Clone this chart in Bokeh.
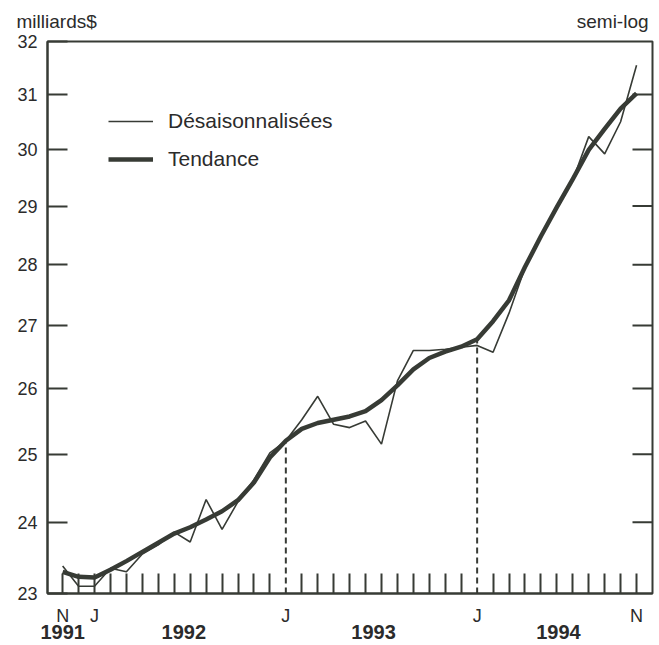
from bokeh.plotting import figure
from bokeh.models import (Range1d, FixedTicker, LinearAxis, Legend, LegendItem,
                          PrintfTickFormatter)
from bokeh.embed import file_html
from bokeh.resources import INLINE

# Monthly index: 0 = Nov 1991 ... 36 = Nov 1994
months = list(range(37))

# Seasonally adjusted series (billions $)
sa = [23.38, 23.10, 23.10, 23.35, 23.30, 23.55, 23.68, 23.86, 23.72, 24.33,
      23.90, 24.30, 24.62, 25.02, 25.20, 25.52, 25.88, 25.45, 25.40, 25.50,
      25.15, 26.12, 26.60, 26.60, 26.62, 26.65, 26.68, 26.57, 27.20, 27.95,
      28.48, 29.00, 29.45, 30.23, 29.92, 30.50, 31.55]

# Trend series
trend = [23.30, 23.23, 23.22, 23.33, 23.45, 23.58, 23.71, 23.84, 23.93, 24.04,
         24.16, 24.32, 24.58, 24.95, 25.20, 25.38, 25.47, 25.52, 25.57, 25.65,
         25.82, 26.05, 26.30, 26.48, 26.58, 26.66, 26.78, 27.07, 27.41, 27.96,
         28.48, 28.98, 29.47, 29.99, 30.37, 30.74, 31.02]

y_ticks = [23, 24, 25, 26, 27, 28, 29, 30, 31, 32]
month_label_pos = [0, 2, 14, 26, 36]
month_labels = ["N", "J", "J", "J", "N"]
dash_months = [14, 26]
month_tick_pos = [m for m in months if m not in dash_months]
year_pos = [0, 7.6, 19.5, 31.1]
year_labels = ["1991", "1992", "1993", "1994"]
header_pos = [-0.375, 34.5]
header_labels = ["milliards$", "semi-log"]

INK = "#373b35"
TEXT = "#2b2b2b"
FONT = "Liberation Sans"
X_LO, X_HI = -0.95, 37.0
FRAME_W, FRAME_H = 605, 552
TICK_PX = 20

p = figure(frame_width=FRAME_W, frame_height=FRAME_H,
           x_range=Range1d(X_LO, X_HI), y_range=Range1d(23, 32),
           y_axis_type="log", output_backend="svg", toolbar_location=None,
           min_border_left=47, min_border_top=41, min_border_right=5,
           min_border_bottom=0, background_fill_color="white",
           border_fill_color="white")

p.grid.visible = False
p.outline_line_color = INK
p.outline_line_width = 2

# bottom axis: month letters, ticks every month pointing inward
xa = p.xaxis[0]
xa.ticker = FixedTicker(ticks=month_label_pos, minor_ticks=month_tick_pos)
xa.major_label_overrides = {m: t for m, t in zip(month_label_pos, month_labels)}
xa.major_tick_in = 0
xa.major_tick_out = 0
xa.minor_tick_in = TICK_PX
xa.minor_tick_out = 0
xa.minor_tick_line_color = INK
xa.minor_tick_line_width = 2
xa.axis_line_color = INK
xa.axis_line_width = 2
xa.major_label_standoff = 12
xa.major_label_text_font = FONT
xa.major_label_text_font_size = "18px"
xa.major_label_text_color = TEXT

# second bottom axis: years
ya2 = LinearAxis(ticker=FixedTicker(ticks=year_pos, minor_ticks=[]))
ya2.major_label_overrides = {v: t for v, t in zip(year_pos, year_labels)}
ya2.major_tick_in = 0
ya2.major_tick_out = 0
ya2.minor_tick_line_color = None
ya2.axis_line_color = None
ya2.major_label_standoff = -4
ya2.major_label_text_font = FONT
ya2.major_label_text_font_size = "20px"
ya2.major_label_text_font_style = "bold"
ya2.major_label_text_color = TEXT
p.add_layout(ya2, "below")

# top axis carrying the unit and scale notes
ta = LinearAxis(ticker=FixedTicker(ticks=header_pos, minor_ticks=[]))
ta.major_label_overrides = {v: t for v, t in zip(header_pos, header_labels)}
ta.major_tick_in = 0
ta.major_tick_out = 0
ta.minor_tick_line_color = None
ta.axis_line_color = None
ta.major_label_standoff = 10
ta.major_label_text_font = FONT
ta.major_label_text_font_size = "19px"
ta.major_label_text_color = TEXT
p.add_layout(ta, "above")

# left axis
ya = p.yaxis[0]
ya.ticker = FixedTicker(ticks=y_ticks, minor_ticks=[])
ya.formatter = PrintfTickFormatter(format="%d")
ya.major_tick_in = TICK_PX
ya.major_tick_out = 0
ya.major_tick_line_color = INK
ya.major_tick_line_width = 2
ya.minor_tick_line_color = None
ya.axis_line_color = INK
ya.axis_line_width = 2
ya.major_label_standoff = 10
ya.major_label_text_font = FONT
ya.major_label_text_font_size = "18px"
ya.major_label_text_color = TEXT

# inward ticks on the right border, at the same values as the left axis
inner = y_ticks[1:-1]
tick_len = TICK_PX * (X_HI - X_LO) / FRAME_W
p.segment(x0=[X_HI - tick_len] * len(inner), y0=inner,
          x1=[X_HI] * len(inner), y1=inner, line_width=2, color=INK)

# dashed verticals at January 1993 and January 1994
p.segment(x0=dash_months, y0=[23] * len(dash_months), x1=dash_months,
          y1=[trend[m] for m in dash_months],
          line_dash="6 4", line_width=2, color=INK)

r_tr = p.line(months, trend, line_width=4.5, color=INK, line_join="round")
r_sa = p.line(months, sa, line_width=1.6, color=INK)

legend = Legend(items=[LegendItem(label="Désaisonnalisées", renderers=[r_sa]),
                       LegendItem(label="Tendance", renderers=[r_tr])],
                location=(61, 422), orientation="vertical",
                border_line_color=None, background_fill_alpha=0,
                padding=0, margin=0, spacing=14, glyph_width=45,
                glyph_height=20, label_height=20, label_standoff=15,
                label_text_font=FONT, label_text_font_size="21px",
                label_text_color=TEXT)
p.add_layout(legend)

open("out.html", "w").write(file_html(p, INLINE))
